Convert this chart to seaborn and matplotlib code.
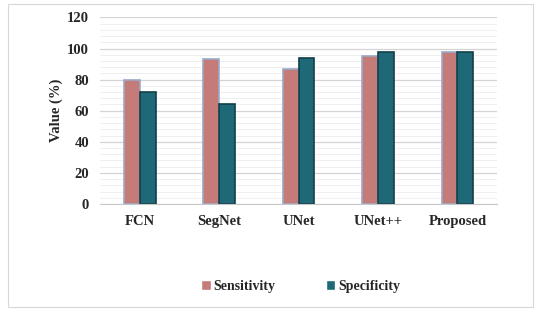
"""Sensitivity / specificity comparison bar chart."""

import numpy as np
import pandas as pd
import seaborn as sns
import matplotlib.pyplot as plt
from matplotlib.ticker import MultipleLocator
from matplotlib.patches import Rectangle

###################################################################################################
###################################################################################################

models = ['FCN', 'SegNet', 'UNet', 'UNet++', 'Proposed']
metrics = ['Sensitivity', 'Specificity']
sensitivity = [80, 93, 87, 95, 98]
specificity = [72, 64, 94, 98, 98]

df = pd.DataFrame({
    'Model': models * 2,
    'Metric': [metrics[0]] * len(models) + [metrics[1]] * len(models),
    'Value': sensitivity + specificity,
})

sns.set_style('white')
plt.rcParams['font.family'] = ['Liberation Serif', 'DejaVu Serif']

fig = plt.figure(figsize=[5.38, 3.11], dpi=100)
ax = fig.add_axes([0.186, 0.344, 0.738, 0.60])

palette = {'Sensitivity': '#C57C78', 'Specificity': '#1E6878'}
sns.barplot(data=df, x='Model', y='Value', hue='Metric', palette=palette,
            width=0.4, saturation=1, ax=ax, legend=True)

# Bar edges
for cont, ec in zip(ax.containers, ['#9AAAC8', '#123E48']):
    for bar in cont:
        bar.set_edgecolor(ec)
        bar.set_linewidth(1.2)

ax.set_ylim(0, 120)
ax.set_xlim(-0.5, 4.5)
ax.yaxis.set_major_locator(MultipleLocator(20))
ax.yaxis.set_minor_locator(MultipleLocator(4))
ax.grid(axis='y', which='major', color='#D4D4D4', linewidth=0.9)
ax.grid(axis='y', which='minor', color='#EDEDED', linewidth=0.6)
ax.set_axisbelow(True)

# Titles & Labels
ax.set_xlabel('')
ax.set_ylabel('Value (%)', fontsize=10.5, fontweight='bold', labelpad=3)
for lab in ax.get_xticklabels() + ax.get_yticklabels():
    lab.set_fontweight('bold')
    lab.set_fontsize(10.5)
ax.tick_params(axis='x', length=0, pad=8)
ax.tick_params(axis='y', length=0, pad=8)

# Spines
for side in ['top', 'right', 'left']:
    ax.spines[side].set_visible(False)
ax.spines['bottom'].set_color('#C8C8C8')

# Legend below the plot
ax.legend(loc='center', bbox_to_anchor=(0.505, -0.44), ncol=2, frameon=False,
          prop={'weight': 'bold', 'size': 10}, handlelength=0.7, handleheight=0.7,
          handletextpad=0.2, columnspacing=3.6)

# Outer border
fig.patches.append(Rectangle((0.015, 0.012), 0.975, 0.975, transform=fig.transFigure,
                             fill=False, edgecolor='#D8D8D8', linewidth=0.8))

plt.savefig('out.png', dpi=100)
